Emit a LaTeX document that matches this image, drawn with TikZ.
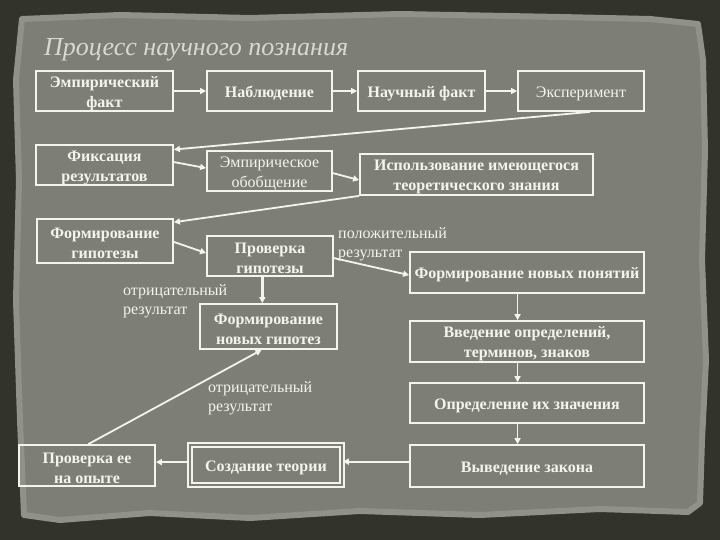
\documentclass[tikz,border=0pt]{standalone}
\usepackage{fontspec}
\setmainfont{Liberation Serif}
\usetikzlibrary{arrows.meta,calc}

\definecolor{chalk}{RGB}{244,244,236}
\definecolor{slate}{RGB}{125,127,119}
\definecolor{slaterim}{RGB}{144,146,138}
\definecolor{frame}{RGB}{50,52,44}
\definecolor{titlegrey}{RGB}{216,217,210}

\tikzset{
  blk/.style={draw=chalk, line width=1.8pt, text=chalk, align=center, inner sep=2pt,
    font=\fontsize{16}{20}\selectfont\bfseries, execute at begin node={\rule{0pt}{16pt}}},
  two/.style={inner ysep=0pt, execute at begin node={\rule{0pt}{36pt}}},
  blkthin/.style={blk, font=\fontsize{16}{20}\selectfont},
  dblk/.style={blk, double=slate, double distance=2.4pt, line width=1.6pt},
  lbl/.style={text=chalk, align=left, anchor=north west, inner sep=0pt,
    font=\fontsize{16}{19}\selectfont},
  con/.style={draw=chalk, line width=1.8pt, -{Triangle[length=6pt,width=6pt]}},
}

\begin{document}
\begin{tikzpicture}[x=1pt,y=1pt,yscale=-1,xscale=1]
\useasboundingbox (0,0) rectangle (720,540);
% background
\fill[frame] (0,0) rectangle (720,540);
\filldraw[fill=slate, draw=slaterim, line width=6pt, line join=round] (22,19) -- (120,15) -- (250,18) -- (400,14) -- (560,17) -- (650,19) -- (698,24) -- (703,60) -- (705,150) -- (702,260) -- (706,360) -- (702,440) -- (700,503) -- (688,512) -- (600,509) -- (480,515) -- (360,511) -- (250,518) -- (150,513) -- (60,520) -- (24,515) -- (20,420) -- (16,300) -- (19,180) -- (16,80) -- cycle;

\node[anchor=base west, inner sep=0pt, text=titlegrey, font=\fontsize{26}{30}\selectfont\itshape] (title) at (44,56) {Процесс научного познания};

% blocks
\node[blk, two, minimum width=137, minimum height=40] (fact) at (104.5,91) {Эмпирический\\факт};
\node[blk, minimum width=125, minimum height=40] (obs) at (269.5,91) {Наблюдение};
\node[blk, minimum width=127, minimum height=40] (scifact) at (421.5,91) {Научный факт};
\node[blkthin, minimum width=126, minimum height=40] (exper) at (581,91) {Эксперимент};
\node[blk, two, minimum width=137, minimum height=40] (fix) at (104.5,165) {Фиксация\\результатов};
\node[blkthin, two, minimum width=125, minimum height=40] (gen) at (269.5,171) {Эмпирическое\\обобщение};
\node[blk, two, minimum width=233, minimum height=41] (theo) at (476.5,174.5) {Использование имеющегося\\теоретического знания};
\node[blk, two, minimum width=136, minimum height=44] (hyp) at (105,241) {Формирование\\гипотезы};
\node[blk, two, minimum width=126, minimum height=40] (test) at (270,256) {Проверка\\гипотезы};
\node[blk, two, minimum width=137, minimum height=45] (newhyp) at (268.5,326.5) {Формирование\\новых гипотез};
\node[blk, minimum width=234, minimum height=41] (concepts) at (527,272.5) {Формирование новых понятий};
\node[blk, two, minimum width=234, minimum height=41] (defs) at (527,341.5) {Введение определений,\\терминов, знаков};
\node[blk, minimum width=234, minimum height=40] (meaning) at (527,403) {Определение их значения};
\node[blk, minimum width=234, minimum height=42] (law) at (527,466) {Выведение закона};
\node[dblk, minimum width=152, minimum height=40] (theory) at (266,465) {Создание теории};
\node[blk, two, minimum width=136, minimum height=41] (check) at (87,465.5) {Проверка ее\\на опыте};

% labels
\node[lbl] (neg1) at (123,284) {отрицательный\\результат};
\node[lbl] (pos) at (338,227) {положительный\\результат};
\node[lbl] (neg2) at (208,381) {отрицательный\\результат};

% connectors
\draw[con] (fact) -- (obs);
\draw[con] (obs) -- (scifact);
\draw[con] (scifact) -- (exper);
\draw[con] ($(exper.south west)!0.57!(exper.south east)$) -- ($(fix.north east)!0.13!(fix.south east)$);
\draw[con] ($(fix.north east)!0.43!(fix.south east)$) -- ($(gen.north west)!0.43!(gen.south west)$);
\draw[con] ($(gen.north east)!0.55!(gen.south east)$) -- ($(theo.north west)!0.63!(theo.south west)$);
\draw[con] (theo.south west) -- ($(hyp.north east)!0.09!(hyp.south east)$);
\draw[con] ($(hyp.north east)!0.52!(hyp.south east)$) -- ($(test.north west)!0.43!(test.south west)$);
\draw[con, line width=3pt] ($(test.south west)!0.44!(test.south east)$) coordinate (tp) -- (tp |- newhyp.north);
\draw[con] ($(test.north east)!0.55!(test.south east)$) -- ($(concepts.north west)!0.56!(concepts.south west)$);
\draw[con] ($(concepts.south west)!0.46!(concepts.south east)$) coordinate (c1) -- (c1 |- defs.north);
\draw[con] ($(defs.south west)!0.46!(defs.south east)$) coordinate (c2) -- (c2 |- meaning.north);
\draw[con] ($(meaning.south west)!0.46!(meaning.south east)$) coordinate (c3) -- (c3 |- law.north);
\draw[con] ($(law.north west)!0.4!(law.south west)$) coordinate (lw) -- (lw -| theory.east);
\draw[con] ($(theory.north west)!0.43!(theory.south west)$) coordinate (tw) -- (tw -| check.east);
\draw[con] ($(check.north west)!0.51!(check.north east)$) -- ($(newhyp.south west)!0.45!(newhyp.south east)$);
\end{tikzpicture}
\end{document}
